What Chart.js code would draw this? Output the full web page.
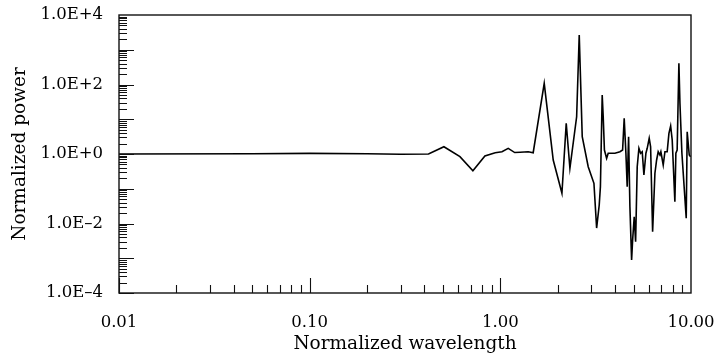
<!DOCTYPE html>
<html lang="en">
<head>
  <meta charset="UTF-8">
  <title>Normalized power spectrum</title>
  <script src="https://cdn.jsdelivr.net/npm/chart.js"></script>
  <style>
    body { margin: 0; background: #fff; }
    #wrap { width: 719px; height: 356px; }
  </style>
</head>
<body>
  <div id="wrap"><canvas id="chart" width="719" height="356"></canvas></div>
  <script>
    // wavelength (x) and power (y)
    const wavelength = [0.01, 0.05, 0.10, 0.20, 0.30, 0.42, 0.506, 0.614, 0.718, 0.83, 0.94, 1.02, 1.10, 1.19, 1.27, 1.40, 1.487,
      1.699, 1.894, 2.104, 2.216, 2.317, 2.513, 2.593, 2.689, 2.890, 3.097, 3.199, 3.301, 3.349, 3.422, 3.464, 3.515, 3.609, 3.679,
      3.99, 4.24, 4.378, 4.463, 4.556, 4.627, 4.707, 4.782, 4.881, 4.941, 5.037, 5.123, 5.223, 5.331, 5.442, 5.548, 5.662,
      5.801, 5.893, 6.037, 6.140, 6.290, 6.468, 6.602, 6.73, 6.87, 6.95, 7.15, 7.30, 7.50, 7.66, 7.82, 7.97, 8.23, 8.33,
      8.46, 8.64, 8.75, 8.96, 9.44, 9.55, 9.79, 9.95];
    const power = [1.0, 1.02, 1.04, 1.02, 0.98, 1.0, 1.62, 0.84, 0.33, 0.875, 1.09, 1.16, 1.45, 1.10, 1.12, 1.16, 1.09,
      108, 0.672, 0.074, 7.65, 0.388, 11.8, 2655, 3.15, 0.431, 0.1435, 0.0074, 0.034, 0.115, 49.9, 11.8, 1.30, 0.752, 1.05,
      1.05, 1.16, 1.30, 10.6, 1.05, 0.115, 3.15, 0.0304, 0.00089, 0.00335, 0.0157, 0.003, 0.431, 1.46, 1.05, 1.16, 0.249,
      1.05, 1.46, 2.83, 1.62, 0.0058, 0.279, 0.672, 1.16, 0.936, 1.16, 0.482, 1.16, 1.16, 3.94, 6.4, 2.53, 0.0424, 1.05,
      1.30, 407, 28.8, 1.05, 0.0141, 4.38, 0.936, 0.836];

    const xTicks = [0.01, 0.1, 1, 10];
    const xTickLabels = ['0.01', '0.10', '1.00', '10.00'];
    const yTicks = [1e-4, 1e-2, 1, 1e2, 1e4];
    const yTickLabels = ['1.0E\u20134', '1.0E\u20132', '1.0E+0', '1.0E+2', '1.0E+4'];

    const points = wavelength.map((w, i) => ({ x: w, y: power[i] }));
    const FONT = "'DejaVu Serif', 'Liberation Serif', serif";

    // frame and inward tick marks (major per decade, minor at 2..9)
    const frameTicks = {
      id: 'frameTicks',
      afterDraw(chart) {
        const { ctx, chartArea: a, scales } = chart;
        ctx.save();
        ctx.strokeStyle = '#111';
        ctx.lineWidth = 1.4;
        ctx.strokeRect(a.left, a.top, a.right - a.left, a.bottom - a.top);
        ctx.beginPath();
        for (let e = -2; e <= 0; e++) {
          for (let k = 1; k <= 9; k++) {
            const px = Math.round(scales.x.getPixelForValue(k * Math.pow(10, e))) + 0.5;
            const len = k === 1 ? 15 : 8;
            ctx.moveTo(px, a.bottom);
            ctx.lineTo(px, a.bottom - len);
          }
        }
        for (let e = -4; e <= 3; e++) {
          for (let k = 1; k <= 9; k++) {
            const py = Math.round(scales.y.getPixelForValue(k * Math.pow(10, e))) + 0.5;
            const len = k === 1 ? 15 : 8;
            ctx.moveTo(a.left, py);
            ctx.lineTo(a.left + len, py);
          }
        }
        ctx.lineWidth = 1.1;
        ctx.stroke();
        ctx.restore();
      }
    };

    // fixed plot box: drop the edge padding Chart.js adds for tick labels
    const noEdgePad = s => { s.paddingLeft = 0; s.paddingRight = 0; s.paddingTop = 0; s.paddingBottom = 0; };

    new Chart(document.getElementById('chart'), {
      type: 'line',
      data: {
        datasets: [{
          data: points,
          borderColor: '#000',
          borderWidth: 1.6,
          pointRadius: 0,
          tension: 0,
          fill: false
        }]
      },
      options: {
        responsive: false,
        animation: false,
        layout: { padding: { left: 0, top: 15, right: 28, bottom: 0 } },
        plugins: { legend: { display: false }, tooltip: { enabled: false } },
        scales: {
          x: {
            type: 'logarithmic',
            min: 0.01,
            max: 10,
            afterBuildTicks: s => { s.ticks = xTicks.map(v => ({ value: v })); },
            afterFit: s => { s.height = 63; noEdgePad(s); },
            grid: { display: false },
            border: { display: false },
            ticks: {
              autoSkip: false,
              maxRotation: 0,
              padding: 12,
              color: '#000',
              font: { family: FONT, size: 16.5 },
              callback: (v, i) => xTickLabels[i]
            },
            title: {
              display: true,
              text: 'Normalized wavelength',
              color: '#000',
              font: { family: FONT, size: 18.5 },
              padding: { top: 0, bottom: 1 }
            }
          },
          y: {
            type: 'logarithmic',
            min: 1e-4,
            max: 1e4,
            afterBuildTicks: s => { s.ticks = yTicks.map(v => ({ value: v })); },
            afterFit: s => { s.width = 119; noEdgePad(s); },
            grid: { display: false },
            border: { display: false },
            ticks: {
              autoSkip: false,
              padding: 8,
              color: '#000',
              font: { family: FONT, size: 16.5 },
              callback: (v, i) => yTickLabels[i]
            },
            title: {
              display: true,
              text: 'Normalized power',
              color: '#000',
              font: { family: FONT, size: 18.5 },
              padding: { top: 9, bottom: 0 }
            }
          }
        }
      },
      plugins: [frameTicks]
    });
  </script>
</body>
</html>
